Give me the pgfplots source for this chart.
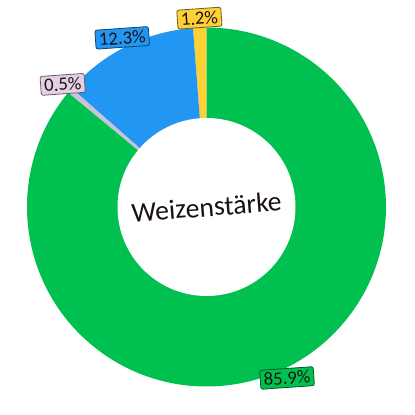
\documentclass[border=0pt]{standalone}
\usepackage{pgfplots}
\usepackage{pgfplotstable}
\usepackage{fontspec}
\setmainfont{Carlito}
\pgfplotsset{compat=1.18}

% wedge colours, label fills and label borders (row order of the table)
\definecolor{wc0}{HTML}{FDD035}
\definecolor{wc1}{HTML}{2196F3}
\definecolor{wc2}{HTML}{C9C3D8}
\definecolor{wc3}{HTML}{00C150}
\definecolor{bc0}{HTML}{FDD035}
\definecolor{bc1}{HTML}{2196F3}
\definecolor{bc2}{HTML}{E4D0E1}
\definecolor{bc3}{HTML}{00C150}
\definecolor{txt}{HTML}{1A1212}

% shares, counter-clockwise from 12 o'clock
\pgfplotstableread{
pct
1.2
12.3
0.5
85.9
}\shares

\def\cx{206.5}
\def\cy{208}
\def\ro{179.5}
\def\ri{89}
\def\rl{189}

\begin{document}%
\begin{tikzpicture}
\def\cum{0}%
\pgfplotsforeachungrouped \i in {0,...,3}{%
  \pgfplotstablegetelem{\i}{pct}\of\shares%
  \pgfmathsetmacro\cum{\cum+\pgfplotsretval}%
}%
\let\total\cum
\def\cum{0}%
\pgfplotsforeachungrouped \i in {0,...,3}{%
  \pgfplotstablegetelem{\i}{pct}\of\shares%
  \let\p\pgfplotsretval
  \pgfmathsetmacro\sa{90+360*(\cum/\total)}%
  \pgfmathsetmacro\cum{\cum+\p}%
  \pgfmathsetmacro\ea{90+360*(\cum/\total)}%
  \pgfmathsetmacro\lx{\cx+\rl*cos((\sa+\ea)/2)}%
  \pgfmathsetmacro\ly{\cy+\rl*sin((\sa+\ea)/2)}%
  \expandafter\xdef\csname sa\i\endcsname{\sa}%
  \expandafter\xdef\csname ea\i\endcsname{\ea}%
  \expandafter\xdef\csname lx\i\endcsname{\lx}%
  \expandafter\xdef\csname ly\i\endcsname{\ly}%
  \expandafter\xdef\csname lab\i\endcsname{\p}%
}%
\begin{axis}[
    x=1bp, y=1bp,
    xmin=0, xmax=415, ymin=0, ymax=415,
    axis line style={draw=none},
    ticks=none,
    clip=false
]
\pgfplotsinvokeforeach{0,...,3}{
  \fill[wc#1] (axis cs:\cx,\cy) -- ++(\csname sa#1\endcsname:\ro bp)
    arc[start angle=\csname sa#1\endcsname, end angle=\csname ea#1\endcsname, radius=\ro bp] -- cycle;
}
\fill[white] (axis cs:\cx,\cy) circle[radius=\ri bp];
\node[txt, font=\fontsize{27.8}{30}\selectfont, rotate=4.5] at (axis cs:\cx,\cy) {Weizenstärke};
\pgfplotsinvokeforeach{0,...,3}{
  \node[fill=bc#1, draw=bc#1!45!black, line width=0.8bp, rounded corners=2bp,
        text=txt, font=\fontsize{18.8}{20}\selectfont, rotate=4,
        inner xsep=3.5bp, inner ysep=3bp]
    at (axis cs:\csname lx#1\endcsname,\csname ly#1\endcsname) {\csname lab#1\endcsname\%};
}
\end{axis}
\end{tikzpicture}%
\end{document}
